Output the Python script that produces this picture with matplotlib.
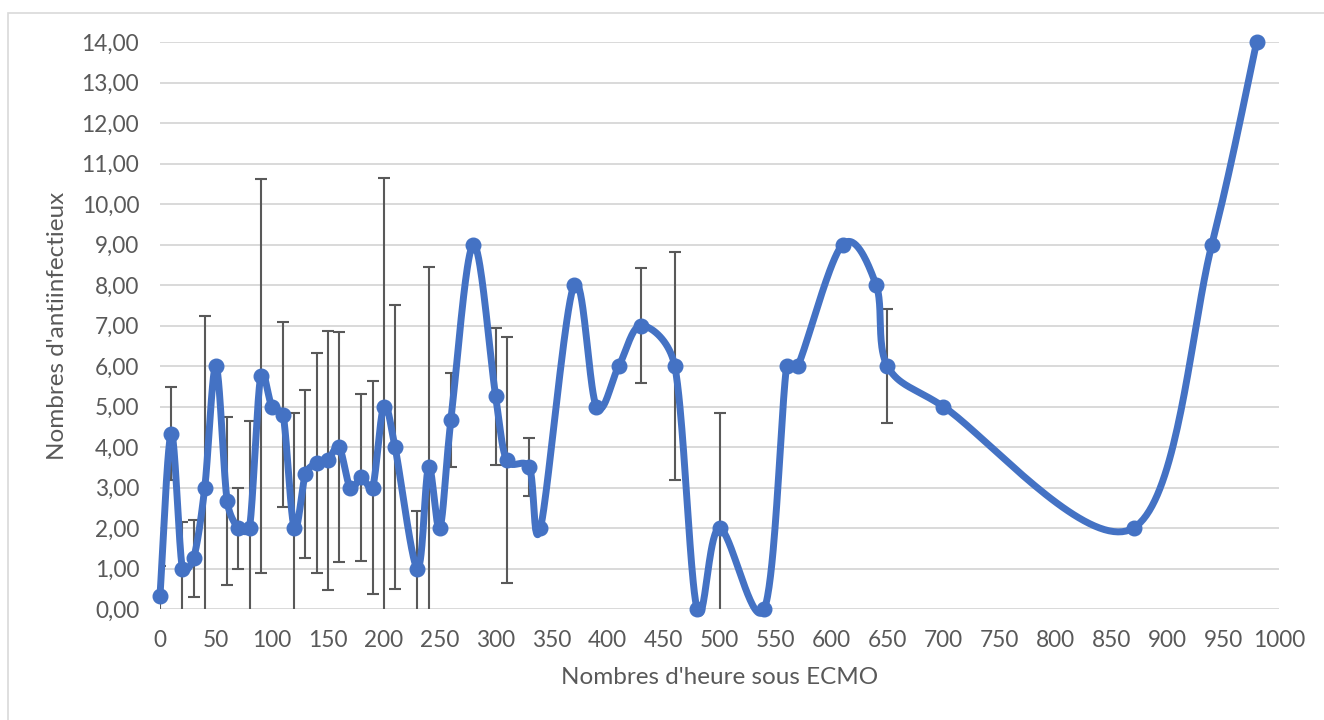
import matplotlib
matplotlib.use("Agg")
import matplotlib.pyplot as plt
import numpy as np
from matplotlib.patches import Rectangle
from matplotlib.ticker import FuncFormatter, MultipleLocator

plt.rcParams["font.family"] = ["Lato", "DejaVu Sans"]

# hours under ECMO, mean number of anti-infectives, standard deviation
hours = [0, 10, 20, 30, 40, 50, 60, 70, 80, 90, 100, 110, 120, 130, 140, 150,
         160, 170, 180, 190, 200, 210, 230, 240, 250, 260, 280, 300, 310, 330,
         340, 370, 390, 410, 430, 460, 480, 500, 540, 560, 570, 610, 640, 650,
         700, 870, 940, 980]
mean_ai = [0.33, 4.33, 1.0, 1.25, 3.0, 6.0, 2.67, 2.0, 2.0, 5.75, 5.0, 4.8, 2.0,
           3.33, 3.6, 3.67, 4.0, 3.0, 3.25, 3.0, 5.0, 4.0, 1.0, 3.5, 2.0, 4.67,
           9.0, 5.25, 3.67, 3.5, 2.0, 8.0, 5.0, 6.0, 7.0, 6.0, 0.0, 2.0, 0.0,
           6.0, 6.0, 9.0, 8.0, 6.0, 5.0, 2.0, 9.0, 14.0]
std_ai = [0.73, 1.15, 1.15, 0.95, 4.23, 0.0, 2.08, 1.0, 2.64, 4.86, 0.0, 2.28,
          2.83, 2.08, 2.71, 3.2, 2.83, 0.0, 2.06, 2.63, 5.65, 3.5, 1.41, 4.94,
          0.0, 1.16, 0.0, 1.69, 3.04, 0.71, 0.0, 0.0, 0.0, 0.0, 1.41, 2.82, 0.0,
          2.83, 0.0, 0.0, 0.0, 0.0, 0.0, 1.41, 0.0, 0.0, 0.0, 0.0]

BLUE = "#4472C4"
GREY_TXT = "#595959"
GRID = "#d9d9d9"
W, H = 1324, 720


def _clamp(v, seg_len, k=0.5):
    n = np.hypot(*v)
    lim = k * seg_len
    return v * (lim / n) if n > lim and n > 0 else v


def smooth_display(ax, x, y, n=40):
    # Excel-like smoothed line: Catmull-Rom / Bezier in screen space,
    # control arms limited so short segments don't loop
    pts = ax.transData.transform(np.column_stack([x, y]))
    out = []
    t = np.linspace(0, 1, n)[:, None]
    for i in range(len(pts) - 1):
        p0 = pts[i - 1] if i > 0 else pts[i]
        p1, p2 = pts[i], pts[i + 1]
        p3 = pts[i + 2] if i + 2 < len(pts) else pts[i + 1]
        seg = np.hypot(*(p2 - p1))
        c1 = p1 + _clamp((p2 - p0) / 6, seg)
        c2 = p2 - _clamp((p3 - p1) / 6, seg)
        b = ((1 - t) ** 3) * p1 + 3 * ((1 - t) ** 2) * t * c1 + 3 * (1 - t) * t ** 2 * c2 + t ** 3 * p2
        out.append(b if i == 0 else b[1:])
    out = np.vstack(out)
    return ax.transData.inverted().transform(out)


fig = plt.figure(figsize=(W / 100, H / 100), dpi=100)
ax = fig.add_axes([160 / W, 1 - 609 / H, (1279 - 160) / W, (609 - 42) / H])
fig.patches.append(Rectangle((8 / W, -0.1), 1.2, 1 - 13 / H + 0.1, transform=fig.transFigure,
                             fill=False, edgecolor=GRID, linewidth=1.2))

ax.set_xlim(0, 1000)
ax.set_ylim(0, 14)

x = np.array(hours, dtype=float)
y = np.array(mean_ai)
err = np.array(std_ai)
has_err = err > 0

ax.errorbar(x[has_err], y[has_err], yerr=err[has_err], fmt="none", ecolor=GREY_TXT,
            elinewidth=1.5, capsize=4, capthick=1.5, zorder=2)

curve = smooth_display(ax, x, y)
ax.plot(curve[:, 0], curve[:, 1], color=BLUE, linewidth=5, solid_capstyle="round",
        zorder=3, clip_on=False)
ax.plot(x, y, "o", color=BLUE, markersize=10.5, zorder=4, clip_on=False)

ax.xaxis.set_major_locator(MultipleLocator(50))
ax.yaxis.set_major_locator(MultipleLocator(1))
ax.yaxis.set_major_formatter(FuncFormatter(lambda v, p: f"{v:.2f}".replace(".", ",")))
ax.grid(axis="y", color=GRID, linewidth=1.4, zorder=0)
ax.set_axisbelow(True)
for s in ax.spines.values():
    s.set_visible(False)
ax.tick_params(length=0, labelsize=16.3, labelcolor=GREY_TXT, pad=15)

ax.set_xlabel("Nombres d'heure sous ECMO", fontsize=17.5, color=GREY_TXT, labelpad=12)
ax.set_ylabel("Nombres d'antiinfectieux", fontsize=17.5, color=GREY_TXT, labelpad=10)

fig.savefig("out.png", dpi=100)
